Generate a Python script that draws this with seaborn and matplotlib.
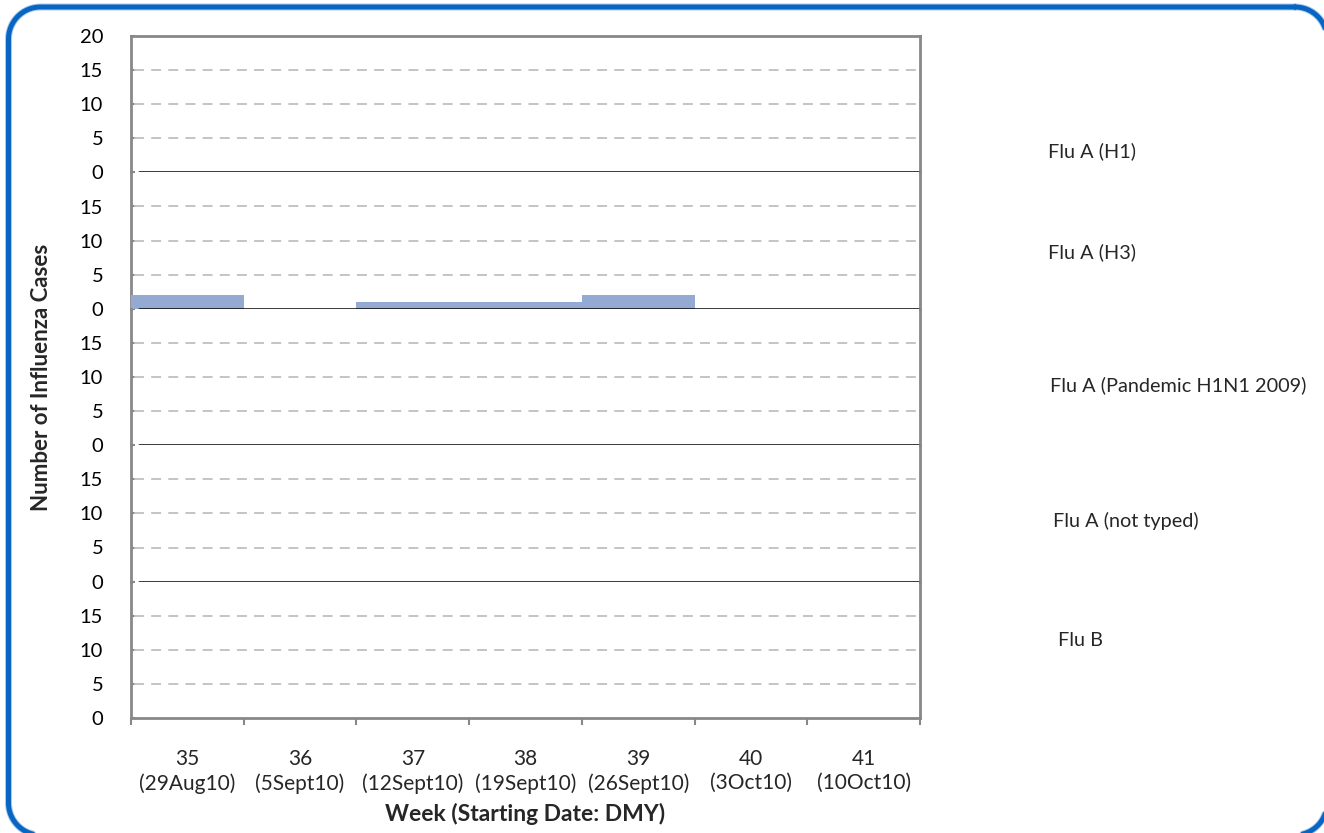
import matplotlib
matplotlib.use("Agg")
import matplotlib.pyplot as plt
import numpy as np
import pandas as pd
import seaborn as sns

# Weekly influenza counts per virus type
weeks = ["35", "36", "37", "38", "39", "40", "41"]
start_dates = ["(29Aug10)", "(5Sept10)", "(12Sept10)", "(19Sept10)", "(26Sept10)", "(3Oct10)", "(10Oct10)"]
flu_types = ["Flu A (H1)", "Flu A (H3)", "Flu A (Pandemic H1N1 2009)", "Flu A (not typed)", "Flu B"]
flu_a_h1 = [0, 0, 0, 0, 0, 0, 0]
flu_a_h3 = [2, 0, 1, 1, 2, 0, 0]
flu_a_pandemic = [0, 0, 0, 0, 0, 0, 0]
flu_a_not_typed = [0, 0, 0, 0, 0, 0, 0]
flu_b = [0, 0, 0, 0, 0, 0, 0]
y_ticks = [0, 5, 10, 15]
y_max = 20

series = [flu_a_h1, flu_a_h3, flu_a_pandemic, flu_a_not_typed, flu_b]

sns.set_theme(style="white")
plt.rcParams["font.family"] = ["Lato", "DejaVu Sans"]

W, H = 1324, 833
fig = plt.figure(figsize=(W / 100, H / 100), dpi=100)
fig.patch.set_facecolor("white")

# full-figure backdrop axes in pixel units, used for the rounded frame
bg = fig.add_axes([0, 0, 1, 1], zorder=-5)
bg.set_xlim(0, W)
bg.set_ylim(H, 0)
bg.axis("off")


def rounded_outline(x0, y0, x1, y1, r, steps=24):
    """Closed polyline of a rounded rectangle (y grows downward)."""
    corners = [
        (x1 - r, y0 + r, np.linspace(-np.pi / 2, 0, steps)),        # top-right
        (x1 - r, y1 - r, np.linspace(0, np.pi / 2, steps)),         # bottom-right
        (x0 + r, y1 - r, np.linspace(np.pi / 2, np.pi, steps)),     # bottom-left
        (x0 + r, y0 + r, np.linspace(np.pi, 1.5 * np.pi, steps)),   # top-left
    ]
    xs, ys = [], []
    for cx, cy, th in corners:
        xs.extend(cx + r * np.cos(th))
        ys.extend(cy + r * np.sin(th))
    xs.append(xs[0])
    ys.append(ys[0])
    return np.array(xs), np.array(ys)


fx, fy = rounded_outline(8.5, 7.0, 1327, 835, 32)
bg.plot(fx, fy, color="#A8CAEE", linewidth=5.0, solid_joinstyle="round", clip_on=False)
bg.plot(fx, fy, color="#0866C2", linewidth=3.6, solid_joinstyle="round", clip_on=False)

left_px, right_px, top_px, bottom_px = 131, 920, 36, 718
n = len(series)
panel_h = (bottom_px - top_px) / n

spine_gray = "#888888"
bar_color = "#95AAD3"
ytick_fs = 14.5
xtick_fs = 15

label_ys = [151, 252, 385, 521, 640]
label_xs = [1048, 1048, 1050, 1053, 1058]

for i, (name, vals) in enumerate(zip(flu_types, series)):
    y0 = bottom_px - (n - i - 1) * panel_h  # pixel bottom of panel (from top)
    ax = fig.add_axes([left_px / W, 1 - y0 / H, (right_px - left_px) / W, panel_h / H])
    df = pd.DataFrame({"week": weeks, "cases": vals})
    sns.barplot(data=df, x="week", y="cases", order=weeks, color=bar_color, width=1.0,
                saturation=1, linewidth=0, ax=ax, zorder=3)
    ax.set_xlim(-0.5, len(weeks) - 0.5)
    ax.set_ylim(0, y_max)
    ax.set_facecolor("none")
    ax.set_xlabel("")
    ax.set_ylabel("")

    # dashed gridlines inside the panel
    for t in y_ticks[1:]:
        ax.axhline(t, xmin=0.004, color="#BFBFBF", linewidth=1.3, linestyle=(0, (5.5, 4)), zorder=1)

    ticks = y_ticks + ([y_max] if i == 0 else [])
    ax.set_yticks(ticks)
    ax.set_yticklabels([str(t) for t in ticks], fontsize=ytick_fs, color="#000000")
    ax.tick_params(axis="y", direction="in", length=3, width=1.5, color=spine_gray, pad=20, left=True)

    for s in ["left", "right", "top", "bottom"]:
        ax.spines[s].set_visible(False)
    for s in (["left", "right"] + (["top"] if i == 0 else [])):
        ax.spines[s].set_visible(True)
        ax.spines[s].set_color(spine_gray)
        ax.spines[s].set_linewidth(2)

    if i < n - 1:
        # black separator at the panel's zero line
        ax.axhline(0, xmin=0.01, xmax=1, color="black", linewidth=1.8, zorder=4)
        ax.set_xticks([])
        ax.tick_params(axis="x", bottom=False, labelbottom=False)
    else:
        ax.spines["bottom"].set_visible(True)
        ax.spines["bottom"].set_color(spine_gray)
        ax.spines["bottom"].set_linewidth(2)
        ax.set_xticks(range(len(weeks)))
        ax.set_xticklabels([f"{w}\n{d}" for w, d in zip(weeks, start_dates)],
                           fontsize=xtick_fs, linespacing=1.28)
        ax.set_xticks([k - 0.5 for k in range(len(weeks) + 1)], minor=True)
        ax.tick_params(axis="x", which="major", length=0, pad=22)
        ax.tick_params(axis="x", which="minor", direction="out", length=5, width=1.5,
                       color=spine_gray, bottom=True)

    # panel name on the right
    fig.text(label_xs[i] / W, 1 - label_ys[i] / H, name, fontsize=14.3, ha="left", va="center")

fig.text(525 / W, 1 - 814 / H, "Week (Starting Date: DMY)", fontsize=16.5, fontweight="bold",
         ha="center", va="center")
fig.text(42 / W, 1 - 377 / H, "Number of Influenza Cases", fontsize=16, fontweight="bold",
         ha="center", va="center", rotation=90)

fig.savefig("out.png", dpi=100, facecolor="white")
